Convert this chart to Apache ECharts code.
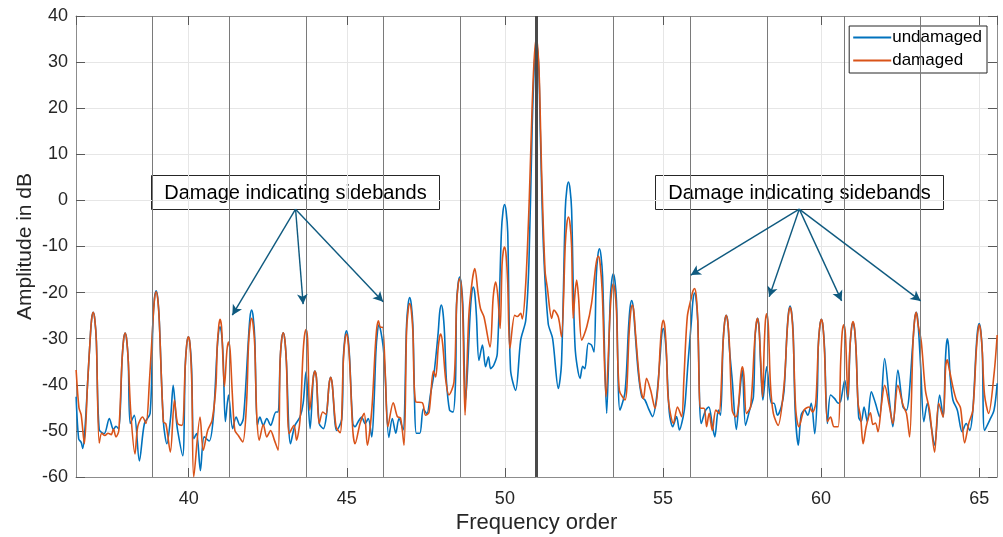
<!DOCTYPE html>
<html>
<head>
<meta charset="utf-8">
<script src="https://cdn.jsdelivr.net/npm/echarts@6/dist/echarts.min.js"></script>
<style>
  html, body { margin: 0; padding: 0; background: #fff; }
  #spectrumChart { width: 1003px; height: 537px; }
</style>
</head>
<body>
<div id="spectrumChart"></div>
<script>
// [frequency order, amplitude dB]
var undamaged = [
    [36.44, -42.6], [36.52, -51.7], [36.60, -52.5], [36.65, -53.8], [36.72, -49.5], [36.80, -40],
    [36.88, -30.5], [36.93, -25.8], [36.98, -24.3], [37.03, -25.8], [37.08, -30.5], [37.17, -49.7],
    [37.33, -50.6], [37.49, -47.3], [37.62, -49.7], [37.70, -49], [37.79, -49.6], [37.89, -35],
    [37.94, -30.3], [37.99, -28.8], [38.04, -30.3], [38.09, -35], [38.15, -48.4], [38.28, -46.6],
    [38.44, -56.5], [38.60, -48.4], [38.78, -46.2], [38.87, -26], [38.92, -21.1], [38.97, -19.6],
    [39.02, -21.1], [39.07, -26], [39.20, -48], [39.31, -52.8], [39.43, -47], [39.51, -40.1],
    [39.60, -47], [39.65, -49.9], [39.81, -55.4], [39.89, -36], [39.94, -31.1], [39.99, -29.6],
    [40.04, -31.1], [40.09, -36], [40.16, -51.7], [40.25, -50.6], [40.37, -58.6], [40.49, -51.3],
    [40.65, -52.2], [40.78, -47], [40.89, -33.5], [40.94, -28.9], [40.99, -27.4], [41.04, -28.9],
    [41.09, -34], [41.16, -48], [41.26, -42.2], [41.39, -49.5], [41.50, -47], [41.62, -48.8],
    [41.73, -47.3], [41.89, -30], [41.94, -25.3], [41.99, -23.8], [42.04, -25.3], [42.09, -30],
    [42.17, -48.8], [42.25, -47], [42.36, -48.8], [42.47, -47.3], [42.59, -48.8], [42.76, -45.9],
    [42.83, -45.9], [42.89, -35], [42.94, -30.2], [42.99, -28.7], [43.04, -30.2], [43.09, -35],
    [43.22, -52.8], [43.36, -48.8], [43.52, -47], [43.62, -44], [43.71, -37.2], [43.84, -49.5],
    [43.94, -38.5], [43.99, -37], [44.04, -38.5], [44.13, -48.4], [44.26, -49.5], [44.36, -46.5],
    [44.44, -39.9], [44.49, -38.4], [44.54, -39.9], [44.68, -49.9], [44.84, -47.5], [44.89, -34.3],
    [44.94, -29.8], [44.99, -28.3], [45.04, -29.8], [45.09, -34.3], [45.19, -48.4], [45.26, -49.1],
    [45.36, -48], [45.47, -47], [45.58, -48.4], [45.68, -47.3], [45.79, -51.3], [45.86, -44],
    [45.92, -33], [45.97, -28.5], [46.02, -27], [46.08, -28.5], [46.15, -31.7], [46.20, -36],
    [46.33, -51.4], [46.44, -47.3], [46.55, -50.5], [46.65, -47.3], [46.78, -49.8], [46.89, -27.1],
    [46.94, -22.6], [46.99, -21.1], [47.04, -22.6], [47.09, -27.1], [47.20, -50.5], [47.31, -50.5],
    [47.42, -45.2], [47.53, -46.3], [47.65, -41.9], [47.76, -37.5], [47.89, -28.7], [47.94, -24.2],
    [47.99, -22.7], [48.04, -24.2], [48.09, -28.7], [48.15, -39], [48.25, -45.5], [48.36, -45.9],
    [48.44, -39], [48.47, -22.6], [48.52, -18.1], [48.57, -16.6], [48.62, -18.1], [48.67, -22.6],
    [48.76, -43.3], [48.90, -24.8], [48.95, -20.3], [49.00, -18.8], [49.05, -20.3], [49.10, -25],
    [49.18, -34.7], [49.29, -31.4], [49.39, -36.1], [49.48, -33.9], [49.55, -36.5], [49.65, -35.7],
    [49.76, -33.2], [49.89, -6.9], [49.94, -2.4], [49.99, -0.9], [50.04, -2.4], [50.09, -6.9],
    [50.18, -36.8], [50.34, -41.2], [50.50, -30.3], [50.66, -26], [50.76, -13.7], [50.86, 15],
    [50.93, 29], [51.00, 34], [51.07, 29], [51.12, 15], [51.22, -10.1], [51.37, -26.7],
    [51.51, -30], [51.69, -40.8], [51.79, -35.4], [51.91, -2], [51.96, 2.5], [52.01, 4],
    [52.06, 2.5], [52.11, -2], [52.22, -31.8], [52.38, -38.6], [52.46, -36], [52.53, -36.5],
    [52.64, -31], [52.74, -31.4], [52.82, -32.9], [52.89, -16.5], [52.94, -12], [52.99, -10.5],
    [53.04, -12], [53.09, -16.5], [53.22, -46.2], [53.33, -21.9], [53.38, -17.4], [53.43, -15.9],
    [53.48, -17.4], [53.53, -21.9], [53.64, -45.5], [53.80, -41.5], [53.91, -27.7], [53.96, -23.2],
    [54.01, -21.7], [54.06, -23.2], [54.11, -27.7], [54.22, -37.5], [54.33, -42.6], [54.43, -43.3],
    [54.54, -45.1], [54.67, -46.9], [54.80, -42.6], [54.91, -33.8], [54.96, -29.3], [55.01, -27.8],
    [55.06, -29.3], [55.11, -33.8], [55.20, -46], [55.31, -49.1], [55.43, -46.9], [55.52, -49.8],
    [55.64, -46.9], [55.70, -44], [55.79, -35.4], [55.90, -26.1], [55.95, -21.6], [56.00, -20.1],
    [56.05, -21.6], [56.10, -26.1], [56.21, -48.4], [56.35, -45.5], [56.45, -44.8], [56.56, -48.8],
    [56.64, -51.3], [56.75, -45.5], [56.82, -46.6], [56.90, -30.9], [56.95, -26.4], [57.00, -24.9],
    [57.05, -26.4], [57.10, -32], [57.19, -39], [57.32, -49.7], [57.40, -44], [57.51, -36.8],
    [57.61, -48.8], [57.74, -45.5], [57.86, -42.6], [57.91, -30], [57.95, -27], [57.99, -25.6],
    [58.04, -27.5], [58.09, -36], [58.16, -43.3], [58.28, -36.1], [58.43, -44], [58.51, -44],
    [58.62, -46.6], [58.74, -44.8], [58.83, -41.3], [58.92, -28.9], [58.97, -24.4], [59.02, -22.9],
    [59.07, -24.4], [59.12, -29], [59.18, -45.5], [59.28, -53.1], [59.37, -46.6], [59.48, -45.5],
    [59.58, -46.6], [59.69, -44], [59.80, -50.6], [59.88, -42.2], [59.91, -31.8], [59.96, -27.3],
    [60.01, -25.8], [60.06, -27.3], [60.11, -32], [60.20, -48.4], [60.30, -42.2], [60.43, -43],
    [60.54, -44], [60.62, -43.5], [60.75, -39], [60.85, -43.3], [60.91, -32.5], [60.96, -28],
    [61.01, -26.5], [61.06, -28], [61.11, -33], [61.19, -47], [61.27, -48], [61.36, -44.8],
    [61.46, -48], [61.59, -41.5], [61.72, -44], [61.85, -47], [62.01, -34.3], [62.17, -44],
    [62.27, -49.1], [62.43, -36.8], [62.59, -44.8], [62.70, -45.5], [62.91, -30.3], [62.96, -25.8],
    [63.01, -24.3], [63.06, -26], [63.15, -36.1], [63.25, -48], [63.36, -44], [63.47, -48.4],
    [63.59, -53.1], [63.75, -42.2], [63.86, -47], [63.93, -35], [63.96, -31.5], [63.99, -30],
    [64.03, -31.5], [64.08, -38], [64.17, -43.3], [64.31, -45.5], [64.46, -50.2], [64.59, -48.4],
    [64.70, -49.9], [64.80, -45.5], [64.90, -32.7], [64.95, -28.2], [65.00, -26.7], [65.05, -28.2],
    [65.10, -33], [65.17, -49.9], [65.33, -47.7], [65.47, -45.5], [65.57, -39.7]
];

var damaged = [
    [36.44, -36.8], [36.53, -45], [36.60, -46.5], [36.70, -52.8], [36.80, -40], [36.88, -30.5],
    [36.93, -25.8], [36.98, -24.3], [37.03, -25.8], [37.08, -30.5], [37.17, -52.6], [37.25, -50.5],
    [37.35, -51], [37.45, -50.5], [37.55, -50.8], [37.62, -49.6], [37.70, -51.3], [37.79, -49.9],
    [37.89, -35], [37.94, -30.3], [37.99, -28.8], [38.04, -30.3], [38.09, -35], [38.17, -46.2],
    [38.30, -55], [38.39, -49], [38.54, -47], [38.65, -48.4], [38.76, -39], [38.87, -26.2],
    [38.92, -21.3], [38.97, -19.8], [39.02, -21.3], [39.07, -26.2], [39.20, -48], [39.28, -48.5],
    [39.42, -54.6], [39.55, -43.3], [39.65, -48.4], [39.79, -48.8], [39.89, -36], [39.94, -31.1],
    [39.99, -29.6], [40.04, -31.1], [40.10, -40], [40.16, -60], [40.36, -47], [40.46, -54.2],
    [40.60, -49.9], [40.74, -47.7], [40.86, -40.4], [40.90, -32], [40.95, -27.3], [40.99, -25.8],
    [41.04, -27.5], [41.13, -40.4], [41.21, -32.5], [41.26, -30.7], [41.31, -32.5], [41.38, -42],
    [41.46, -49.9], [41.57, -51], [41.71, -52.4], [41.83, -44], [41.89, -31.6], [41.94, -27.1],
    [41.99, -25.6], [42.04, -27.1], [42.09, -31.6], [42.15, -46.2], [42.23, -52], [42.36, -48.6],
    [42.47, -51.3], [42.59, -49.9], [42.71, -52], [42.83, -54.2], [42.89, -35], [42.94, -30.2],
    [42.99, -28.7], [43.04, -30.2], [43.09, -35], [43.18, -50.6], [43.33, -48.8], [43.41, -52],
    [43.52, -47.7], [43.61, -34], [43.66, -29.5], [43.71, -28], [43.76, -30], [43.83, -45.5],
    [43.94, -38.5], [43.99, -37], [44.04, -38.5], [44.13, -48.4], [44.24, -45.9], [44.34, -46.4],
    [44.44, -39.9], [44.49, -38.4], [44.54, -39.9], [44.66, -49.1], [44.79, -50.4], [44.89, -35],
    [44.94, -30.5], [44.99, -29], [45.04, -30.5], [45.09, -35], [45.19, -49.9], [45.26, -52.8],
    [45.42, -48.4], [45.55, -46.2], [45.65, -53.1], [45.79, -45.5], [45.90, -32], [45.95, -27.6],
    [46.00, -26.1], [46.06, -27.5], [46.13, -27.5], [46.22, -38], [46.30, -49.1], [46.47, -43.9],
    [46.60, -46.9], [46.70, -47.2], [46.81, -53.1], [46.89, -28.4], [46.94, -23.9], [46.99, -22.4],
    [47.04, -23.9], [47.09, -28.4], [47.18, -43.7], [47.39, -43.9], [47.49, -46.6], [47.60, -46],
    [47.74, -37], [47.81, -38.3], [47.89, -32], [47.93, -29.8], [47.97, -29], [48.03, -31],
    [48.13, -39], [48.23, -42.2], [48.39, -39.4], [48.47, -23], [48.52, -18.5], [48.57, -17],
    [48.62, -18.5], [48.67, -25], [48.74, -46.6], [48.86, -25], [48.97, -17.3], [49.05, -14.8],
    [49.15, -20], [49.23, -23.5], [49.34, -25.3], [49.53, -31.8], [49.63, -21], [49.71, -17.7],
    [49.78, -21], [49.85, -27.8], [49.91, -14], [49.95, -11], [49.99, -10.1], [50.04, -12],
    [50.09, -18], [50.16, -32.1], [50.31, -24.9], [50.39, -25.2], [50.50, -24.5], [50.55, -25.7],
    [50.66, -18], [50.77, 0], [50.86, 20], [50.93, 31], [51.00, 35.3], [51.06, 31],
    [51.10, 24], [51.16, 6.6], [51.27, -15.2], [51.34, -18.8], [51.48, -25.6], [51.55, -23.8],
    [51.69, -25.3], [51.79, -29.6], [51.91, -9.6], [51.96, -5.1], [52.01, -3.6], [52.06, -5.1],
    [52.11, -10], [52.16, -25.6], [52.22, -20], [52.27, -17.3], [52.33, -21], [52.43, -30.3],
    [52.59, -27.4], [52.74, -22.4], [52.86, -15], [52.91, -12.8], [52.96, -12.1], [53.01, -13.6],
    [53.08, -20], [53.20, -42.6], [53.33, -24.1], [53.38, -19.6], [53.43, -18.1], [53.48, -19.6],
    [53.53, -24.1], [53.62, -41.2], [53.80, -43.3], [53.93, -28.7], [53.98, -24.2], [54.03, -22.7],
    [54.08, -24.2], [54.13, -28.7], [54.27, -39.7], [54.38, -43], [54.48, -38.6], [54.61, -41.2],
    [54.75, -45.1], [54.85, -39.7], [54.91, -32], [54.96, -27.5], [55.01, -26], [55.06, -27.5],
    [55.11, -33], [55.17, -43.3], [55.33, -48.4], [55.46, -44.8], [55.59, -46.9], [55.66, -39],
    [55.77, -25.2], [55.90, -21], [55.95, -19.6], [56.00, -19.1], [56.05, -20.6], [56.10, -26],
    [56.19, -45.1], [56.30, -45.1], [56.38, -49.1], [56.46, -46.2], [56.56, -49.9], [56.67, -45.5],
    [56.77, -46.2], [56.90, -30.9], [56.95, -26.4], [57.00, -24.9], [57.05, -26.4], [57.10, -31],
    [57.19, -45.5], [57.30, -47], [57.38, -45], [57.46, -38], [57.51, -36.1], [57.56, -38],
    [57.64, -46.2], [57.77, -44.8], [57.89, -31.6], [57.94, -27.1], [57.99, -25.6], [58.04, -28],
    [58.10, -36], [58.15, -42.6], [58.20, -32], [58.24, -26.1], [58.28, -24.6], [58.33, -27],
    [58.40, -40], [58.49, -46.2], [58.64, -48.8], [58.83, -40], [58.92, -29.2], [58.97, -24.7],
    [59.02, -23.2], [59.07, -24.7], [59.12, -30], [59.20, -45.5], [59.30, -49.1], [59.46, -45.5],
    [59.62, -44.8], [59.73, -45.9], [59.83, -44], [59.91, -31.8], [59.96, -27.3], [60.01, -25.8],
    [60.06, -27.3], [60.11, -33], [60.20, -48], [60.30, -47], [60.41, -49.1], [60.54, -49.1],
    [60.62, -35], [60.67, -28.5], [60.72, -27], [60.77, -29], [60.85, -42.6], [60.91, -32.3],
    [60.96, -27.8], [61.01, -26.3], [61.06, -27.8], [61.11, -33], [61.17, -44], [61.25, -47],
    [61.33, -52.8], [61.43, -49], [61.56, -46.1], [61.64, -48.6], [61.72, -48.3], [61.80, -50.2],
    [61.91, -44.3], [62.01, -40.1], [62.17, -45], [62.27, -48.4], [62.43, -40.1], [62.59, -44.4],
    [62.70, -46.2], [62.80, -51.3], [62.91, -30.3], [62.96, -25.8], [63.01, -24.3], [63.07, -27],
    [63.17, -30.7], [63.30, -41.2], [63.43, -45.5], [63.59, -54.6], [63.72, -44], [63.86, -47],
    [63.94, -36.1], [63.99, -34.6], [64.04, -36.1], [64.17, -40.5], [64.28, -43.3], [64.41, -45],
    [64.54, -52.6], [64.67, -48.4], [64.80, -45.5], [64.91, -32.5], [64.96, -28.5], [65.00, -27],
    [65.05, -28.5], [65.10, -33], [65.17, -42.2], [65.30, -46.2], [65.47, -37.7], [65.57, -29.2]
];

// sideband orders marked with vertical lines (51 = mesh order)
var meshOrder = 51;
var sidebandOrders = [38.86, 41.29, 43.72, 46.15, 48.58, 53.43, 55.86, 58.29, 60.72, 63.15];

var annotationText = 'Damage indicating sidebands';
// arrow start (box bottom) and tips, in data coords
var leftArrowFrom = [43.38, -1.9];
var leftArrowTips = [[41.38, -24.9], [43.62, -22.5], [46.15, -22.0]];
var rightArrowFrom = [59.31, -1.9];
var rightArrowTips = [[55.88, -16.2], [58.36, -20.9], [60.65, -21.8], [63.15, -21.8]];

var xMin = 36.436, xMax = 65.564;
var yTicks = { min: -60, max: 40, step: 10 };

var FONT = '"Liberation Sans", Arial, sans-serif';

function arrowLines(from, tips) {
    return tips.map(function (t) {
        return [{ coord: from }, { coord: t }];
    });
}

function annotationBox(left) {
    return {
        type: 'group',
        left: left,
        top: 175,
        z: 10,
        children: [{
            type: 'rect',
            shape: { x: 0, y: 0, width: 288, height: 34 },
            style: { fill: '#fff', stroke: '#262626', lineWidth: 1 }
        }, {
            type: 'text',
            x: 144,
            y: 18,
            style: { text: annotationText, font: '20px ' + FONT, fill: '#000', align: 'center', verticalAlign: 'middle' }
        }]
    };
}

function initSpectrumChart() {
    var chart = echarts.init(document.getElementById('spectrumChart'));

    var vLines = sidebandOrders.map(function (v) {
        return { xAxis: v, lineStyle: { color: '#7a7a7a', width: 1, type: 'solid' } };
    });
    vLines.push({ xAxis: meshOrder, lineStyle: { color: '#4a4a4a', width: 3, type: 'solid' } });

    var arrows = arrowLines(leftArrowFrom, leftArrowTips).concat(arrowLines(rightArrowFrom, rightArrowTips));

    var option = {
        animation: false,
        backgroundColor: '#fff',
        textStyle: { fontFamily: FONT },
        grid: { left: 76, right: 6, top: 16, bottom: 60, outerBoundsMode: 'none', containLabel: false },
        legend: {
            right: 16,
            top: 26,
            orient: 'vertical',
            icon: 'rect',
            itemWidth: 38,
            itemHeight: 2,
            itemGap: 6,
            padding: [3, 5, 4, 4],
            borderColor: '#262626',
            borderWidth: 1,
            backgroundColor: '#fff',
            textStyle: { fontFamily: FONT, fontSize: 17, color: '#000', padding: [0, 0, 0, -4] },
            data: ['undamaged', 'damaged']
        },
        xAxis: [{
            type: 'value',
            min: xMin,
            max: xMax,
            minInterval: 5,
            maxInterval: 5,
            name: 'Frequency order',
            nameLocation: 'middle',
            nameGap: 35,
            nameMoveOverlap: false,
            nameTextStyle: { fontFamily: FONT, fontSize: 22, color: '#262626' },
            axisLine: { onZero: false, lineStyle: { color: '#8c8c8c', width: 1 } },
            axisTick: { inside: true, length: 9, lineStyle: { color: '#5a5a5a' } },
            axisLabel: {
                fontFamily: FONT, fontSize: 18, color: '#262626', margin: 13,
                showMinLabel: false, showMaxLabel: false,
                formatter: function (v) { return v % 5 === 0 ? String(v) : ''; }
            },
            splitLine: { show: true, lineStyle: { color: '#e6e6e6', width: 1 } }
        }, {
            type: 'value',
            position: 'top',
            min: xMin,
            max: xMax,
            minInterval: 5,
            maxInterval: 5,
            axisLine: { onZero: false, lineStyle: { color: '#8c8c8c', width: 1 } },
            axisTick: { inside: true, length: 9, lineStyle: { color: '#5a5a5a' } },
            axisLabel: { show: false },
            splitLine: { show: false }
        }],
        yAxis: [{
            type: 'value',
            min: yTicks.min,
            max: yTicks.max,
            interval: yTicks.step,
            name: 'Amplitude in dB',
            nameLocation: 'middle',
            nameGap: 40,
            nameMoveOverlap: false,
            nameTextStyle: { fontFamily: FONT, fontSize: 21, color: '#262626' },
            axisLine: { show: true, onZero: false, lineStyle: { color: '#8c8c8c', width: 1 } },
            axisTick: { show: true, inside: true, length: 9, lineStyle: { color: '#5a5a5a' } },
            axisLabel: { fontFamily: FONT, fontSize: 18, color: '#262626', margin: 8 },
            splitLine: { show: true, lineStyle: { color: '#e6e6e6', width: 1 } }
        }, {
            type: 'value',
            position: 'right',
            min: yTicks.min,
            max: yTicks.max,
            interval: yTicks.step,
            axisLine: { show: true, onZero: false, lineStyle: { color: '#8c8c8c', width: 1 } },
            axisTick: { show: true, inside: true, length: 9, lineStyle: { color: '#5a5a5a' } },
            axisLabel: { show: false },
            splitLine: { show: false }
        }],
        series: [{
            name: 'undamaged',
            type: 'line',
            data: undamaged,
            showSymbol: false,
            symbol: 'none',
            smooth: 0.3,
            color: '#0072BD',
            lineStyle: { width: 1.6, color: '#0072BD' },
            z: 2
        }, {
            name: 'damaged',
            type: 'line',
            data: damaged,
            showSymbol: false,
            symbol: 'none',
            smooth: 0.3,
            color: '#D95319',
            lineStyle: { width: 1.6, color: '#D95319' },
            z: 3,
            markLine: {
                silent: true,
                symbol: ['none', 'none'],
                label: { show: false },
                data: vLines
            }
        }, {
            name: 'arrows',
            type: 'line',
            data: [],
            z: 5,
            markLine: {
                silent: true,
                symbol: ['none', 'arrow'],
                symbolSize: [8, 10],
                label: { show: false },
                lineStyle: { color: '#0f5a7f', width: 1.4, type: 'solid' },
                data: arrows
            }
        }],
        graphic: [annotationBox(151), annotationBox(655)]
    };
    chart.setOption(option);
}

initSpectrumChart();
</script>
</body>
</html>
